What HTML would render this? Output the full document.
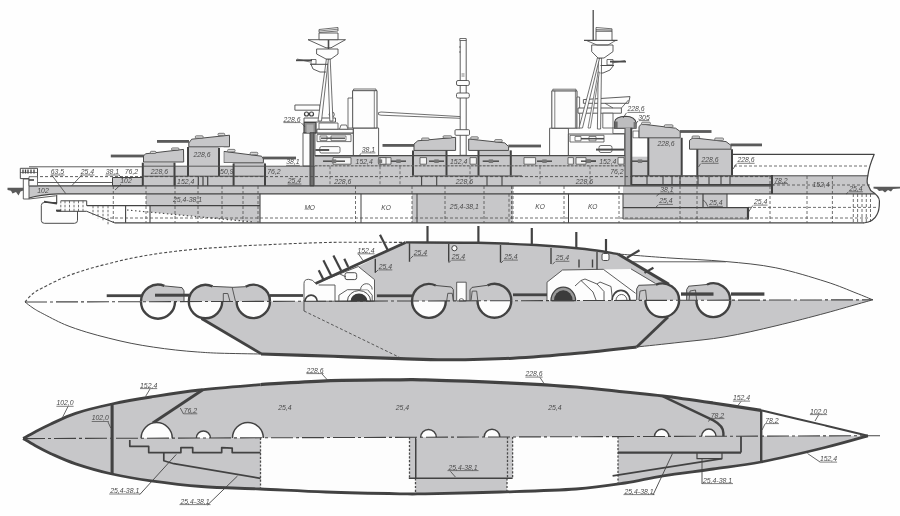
<!DOCTYPE html>
<html><head><meta charset="utf-8"><title>Armour scheme</title>
<style>
html,body{margin:0;padding:0;background:#fff;}
body{width:900px;height:516px;overflow:hidden;font-family:"Liberation Sans",sans-serif;}
svg{display:block;}
svg text{font-family:"Liberation Sans",sans-serif;font-style:italic;}
</style></head><body>
<svg width="900" height="516" viewBox="0 0 900 516">
<defs><filter id="soft" x="-2%" y="-2%" width="104%" height="104%"><feGaussianBlur stdDeviation="0.5"/></filter></defs>
<rect width="900" height="516" fill="#fefefe"/>
<g filter="url(#soft)" stroke-linecap="butt" stroke-linejoin="round">
<g id="profile">
<path d="M29,185.8 H513 V193.8 H58 Q40,194.5 29,198 Z" fill="#c7c7c9" stroke="none" stroke-width="1" />
<rect x="112.5" y="177.5" width="30.0" height="8.3" fill="#c7c7c9" stroke="none" stroke-width="1" />
<rect x="142.5" y="166.0" width="172.5" height="19.8" fill="#c7c7c9" stroke="none" stroke-width="1" />
<rect x="142.5" y="162.7" width="32.5" height="3.8" fill="#c7c7c9" stroke="none" stroke-width="1" />
<rect x="187.5" y="147.0" width="31.5" height="19.5" fill="#c7c7c9" stroke="none" stroke-width="1" />
<rect x="233.2" y="162.7" width="32.1" height="3.8" fill="#c7c7c9" stroke="none" stroke-width="1" />
<rect x="315.0" y="156.0" width="309.7" height="29.8" fill="#c7c7c9" stroke="none" stroke-width="1" />
<rect x="412.8" y="150.4" width="34.0" height="6.1" fill="#c7c7c9" stroke="none" stroke-width="1" />
<rect x="478.3" y="150.4" width="32.7" height="6.1" fill="#c7c7c9" stroke="none" stroke-width="1" />
<rect x="624.7" y="128.0" width="6.8" height="57.8" fill="#c7c7c9" stroke="none" stroke-width="1" />
<rect x="631.5" y="156.7" width="16.5" height="19.3" fill="#c7c7c9" stroke="none" stroke-width="1" />
<rect x="648.0" y="137.8" width="34.0" height="38.2" fill="#c7c7c9" stroke="none" stroke-width="1" />
<rect x="697.0" y="149.2" width="35.3" height="26.8" fill="#c7c7c9" stroke="none" stroke-width="1" />
<rect x="631.0" y="175.6" width="141.0" height="9.9" fill="#c7c7c9" stroke="none" stroke-width="1" />
<polygon points="772.0,175.5 868.0,175.5 867.2,182.0 870.7,190.6 874.0,193.5 623.0,193.5 623.0,185.0 772.0,185.0" fill="#c7c7c9" stroke="none" stroke-width="1" />
<rect x="146.0" y="193.8" width="114.0" height="11.7" fill="#c7c7c9" stroke="none" stroke-width="1" />
<polygon points="150.0,205.0 260.0,205.0 260.0,222.4 254.0,222.0 150.0,212.0" fill="#c7c7c9" stroke="none" stroke-width="1" />
<rect x="412.0" y="193.8" width="101.0" height="28.8" fill="#c7c7c9" stroke="none" stroke-width="1" />
<polygon points="623.0,193.8 727.0,193.8 727.0,207.6 748.0,207.6 748.0,219.0 623.0,219.0" fill="#c7c7c9" stroke="none" stroke-width="1" />
<rect x="303.0" y="132.8" width="8.8" height="33.2" fill="#fdfdfd" stroke="#4c4c4c" stroke-width="0.9" />
<rect x="315.0" y="133.0" width="38.4" height="23.0" fill="#fdfdfd" stroke="#4c4c4c" stroke-width="0.9" />
<rect x="353.4" y="128.0" width="25.2" height="28.0" fill="#fdfdfd" stroke="#4c4c4c" stroke-width="0.9" />
<rect x="352.6" y="90.6" width="24.4" height="37.4" fill="#fdfdfd" stroke="#4c4c4c" stroke-width="1" />
<rect x="353.6" y="89.0" width="22.4" height="1.6" fill="#fdfdfd" stroke="#4c4c4c" stroke-width="0.8" />
<rect x="348.0" y="98.0" width="4.6" height="30.0" fill="#fdfdfd" stroke="#4c4c4c" stroke-width="0.8" />
<line x1="374.3" y1="90.6" x2="374.3" y2="128.0" stroke="#4c4c4c" stroke-width="0.7" />
<rect x="294.9" y="105.0" width="25.1" height="5.2" fill="#fdfdfd" stroke="#4c4c4c" stroke-width="0.9" />
<rect x="304.0" y="118.0" width="31.5" height="4.0" fill="#fdfdfd" stroke="#4c4c4c" stroke-width="0.9" />
<rect x="316.9" y="129.2" width="36.3" height="3.8" fill="#fdfdfd" stroke="#4c4c4c" stroke-width="1" />
<rect x="319.0" y="123.0" width="19.0" height="6.2" fill="#fdfdfd" stroke="#4c4c4c" stroke-width="0.8" />
<path d="M339.5,129.2 L341,125 H346.5 L348,129.2 Z" fill="#fdfdfd" stroke="#4c4c4c" stroke-width="0.8" />
<circle cx="331.7" cy="114.5" r="2.6" fill="#fdfdfd" stroke="#4c4c4c" stroke-width="0.9"/>
<circle cx="306.5" cy="114" r="2" fill="#fdfdfd" stroke="#434343" stroke-width="1.2"/>
<circle cx="311.5" cy="114" r="2" fill="#fdfdfd" stroke="#434343" stroke-width="1.2"/>
<rect x="304.0" y="122.5" width="12.0" height="10.3" fill="#8a8a8a" stroke="#434343" stroke-width="1.2" />
<rect x="306.5" y="124.5" width="7.0" height="8.3" fill="#b0b0b0" stroke="none" stroke-width="1" />
<rect x="310.0" y="132.8" width="4.0" height="53.0" fill="#707070" stroke="#434343" stroke-width="1" />
<rect x="317.0" y="134.6" width="34.0" height="7.0" fill="#fdfdfd" stroke="#4c4c4c" stroke-width="0.8" />
<rect x="320.0" y="136.0" width="7.0" height="4.4" fill="#fdfdfd" stroke="#4c4c4c" stroke-width="0.7" />
<rect x="331.0" y="136.0" width="15.0" height="4.4" fill="#fdfdfd" stroke="#4c4c4c" stroke-width="0.7" />
<line x1="321.0" y1="138.2" x2="345.0" y2="138.2" stroke="#4c4c4c" stroke-width="1.4" />
<rect x="319.8" y="146.6" width="20.2" height="6.4" fill="#fdfdfd" stroke="#4c4c4c" stroke-width="0.8" rx="1.5"/>
<line x1="315.4" y1="150.0" x2="329.2" y2="150.0" stroke="#434343" stroke-width="1.8" />
<polygon points="327.6,59.0 330.2,59.0 333.0,121.0 329.8,121.0" fill="#fdfdfd" stroke="#4c4c4c" stroke-width="0.8" />
<polygon points="326.4,59.0 328.4,59.0 321.5,121.0 318.0,121.0" fill="#fdfdfd" stroke="#4c4c4c" stroke-width="0.8" />
<polygon points="316.6,49.0 338.0,49.0 338.0,54.0 331.0,59.0 326.0,59.0 316.6,54.0" fill="#fdfdfd" stroke="#4c4c4c" stroke-width="0.9" />
<polygon points="308.0,39.7 345.5,39.7 331.0,47.8 326.0,47.8" fill="#fdfdfd" stroke="#4c4c4c" stroke-width="0.9" />
<line x1="328.5" y1="40.0" x2="328.5" y2="49.0" stroke="#4c4c4c" stroke-width="1.6" />
<rect x="319.0" y="33.0" width="19.0" height="6.7" fill="#fdfdfd" stroke="#4c4c4c" stroke-width="0.9" />
<polygon points="319.0,29.5 338.0,27.5 338.0,31.0 319.0,32.5" fill="#fdfdfd" stroke="#4c4c4c" stroke-width="0.8" />
<line x1="319.0" y1="31.0" x2="338.0" y2="29.2" stroke="#4c4c4c" stroke-width="0.7" />
<polyline points="310.0,64.3 328.0,64.3" fill="none" stroke="#4c4c4c" stroke-width="1" />
<polyline points="311.0,64.3 313.0,69.0 320.0,72.0 326.0,72.0" fill="none" stroke="#4c4c4c" stroke-width="0.9" />
<rect x="311.0" y="59.5" width="5.0" height="4.5" fill="#fdfdfd" stroke="#4c4c4c" stroke-width="0.8" />
<line x1="296.0" y1="60.3" x2="312.0" y2="60.3" stroke="#4c4c4c" stroke-width="1.8" />
<line x1="297.0" y1="59.0" x2="310.0" y2="62.0" stroke="#4c4c4c" stroke-width="0.7" />
<polygon points="378.5,112.6 381.0,112.0 460.5,116.6 460.5,118.3 381.0,115.2 378.5,114.6" fill="#fdfdfd" stroke="#4c4c4c" stroke-width="0.8" />
<rect x="460.2" y="39.7" width="6.0" height="115.6" fill="#fdfdfd" stroke="#4c4c4c" stroke-width="0.9" />
<rect x="459.8" y="38.5" width="6.4" height="2.0" fill="#fdfdfd" stroke="#4c4c4c" stroke-width="0.8" />
<rect x="456.5" y="80.5" width="12.8" height="5.0" fill="#fdfdfd" stroke="#4c4c4c" stroke-width="0.9" rx="1.5"/>
<rect x="456.5" y="93.0" width="12.8" height="5.0" fill="#fdfdfd" stroke="#4c4c4c" stroke-width="0.9" rx="1.5"/>
<rect x="455.0" y="129.7" width="14.5" height="5.6" fill="#fdfdfd" stroke="#4c4c4c" stroke-width="0.9" rx="1"/>
<line x1="461.5" y1="74.0" x2="464.5" y2="74.0" stroke="#4c4c4c" stroke-width="0.7" />
<line x1="461.5" y1="76.0" x2="464.5" y2="76.0" stroke="#4c4c4c" stroke-width="0.7" />
<line x1="459.0" y1="47.0" x2="460.6" y2="47.0" stroke="#4c4c4c" stroke-width="0.8" />
<line x1="459.0" y1="52.0" x2="460.6" y2="52.0" stroke="#4c4c4c" stroke-width="0.8" />
<rect x="549.6" y="128.2" width="18.8" height="27.3" fill="#fdfdfd" stroke="#4c4c4c" stroke-width="0.9" />
<rect x="568.4" y="134.0" width="56.3" height="21.5" fill="#fdfdfd" stroke="#4c4c4c" stroke-width="0.9" />
<rect x="551.8" y="90.8" width="25.2" height="37.4" fill="#fdfdfd" stroke="#4c4c4c" stroke-width="1" />
<rect x="552.8" y="89.2" width="23.2" height="1.6" fill="#fdfdfd" stroke="#4c4c4c" stroke-width="0.8" />
<rect x="577.0" y="97.0" width="2.6" height="31.2" fill="#fdfdfd" stroke="#4c4c4c" stroke-width="0.8" />
<line x1="554.8" y1="90.8" x2="554.8" y2="128.0" stroke="#4c4c4c" stroke-width="0.7" />
<line x1="575.4" y1="90.8" x2="575.4" y2="128.0" stroke="#4c4c4c" stroke-width="0.7" />
<rect x="570.0" y="135.3" width="34.0" height="6.7" fill="#fdfdfd" stroke="#4c4c4c" stroke-width="0.8" />
<rect x="575.0" y="136.5" width="6.0" height="4.3" fill="#fdfdfd" stroke="#4c4c4c" stroke-width="0.7" />
<rect x="589.0" y="136.5" width="7.0" height="4.3" fill="#fdfdfd" stroke="#4c4c4c" stroke-width="0.7" />
<line x1="581.0" y1="138.7" x2="604.0" y2="138.7" stroke="#4c4c4c" stroke-width="1.5" />
<rect x="599.0" y="145.5" width="13.0" height="7.0" fill="#fdfdfd" stroke="#4c4c4c" stroke-width="0.8" rx="2"/>
<line x1="596.0" y1="149.6" x2="624.0" y2="149.6" stroke="#4c4c4c" stroke-width="2" />
<polygon points="583.4,99.6 630.0,96.6 628.5,103.3 583.4,103.3" fill="#fdfdfd" stroke="#4c4c4c" stroke-width="0.9" />
<rect x="578.0" y="108.0" width="43.4" height="5.2" fill="#fdfdfd" stroke="#4c4c4c" stroke-width="0.9" />
<rect x="602.8" y="113.2" width="10.2" height="14.8" fill="#fdfdfd" stroke="#4c4c4c" stroke-width="0.8" />
<polyline points="621.4,108.0 628.5,100.0" fill="none" stroke="#4c4c4c" stroke-width="0.8" />
<polyline points="605.0,103.3 613.0,108.0" fill="none" stroke="#4c4c4c" stroke-width="0.8" />
<rect x="612.9" y="128.0" width="13.9" height="5.5" fill="#fdfdfd" stroke="#4c4c4c" stroke-width="0.8" />
<polygon points="598.4,58.0 601.6,58.0 600.6,129.0 597.4,129.0" fill="#fdfdfd" stroke="#4c4c4c" stroke-width="0.8" />
<polygon points="597.4,58.0 599.6,58.0 582.5,128.0 579.0,128.0" fill="#fdfdfd" stroke="#4c4c4c" stroke-width="0.8" />
<polygon points="598.2,72.0 599.4,72.0 590.4,128.0 588.0,128.0" fill="#fdfdfd" stroke="#4c4c4c" stroke-width="0.7" />
<polygon points="591.7,45.0 613.0,45.0 613.0,51.6 604.0,58.0 598.0,58.0 591.7,51.6" fill="#fdfdfd" stroke="#4c4c4c" stroke-width="0.9" />
<line x1="584.0" y1="40.3" x2="617.5" y2="40.3" stroke="#4c4c4c" stroke-width="1.3" />
<polyline points="586.0,40.3 597.0,45.0 608.0,45.0 616.0,40.3" fill="none" stroke="#4c4c4c" stroke-width="0.8" />
<rect x="596.0" y="31.0" width="16.0" height="9.3" fill="#fdfdfd" stroke="#4c4c4c" stroke-width="0.9" />
<polygon points="596.0,27.5 612.0,28.8 612.0,31.0 596.0,31.0" fill="#fdfdfd" stroke="#4c4c4c" stroke-width="0.8" />
<line x1="596.0" y1="29.5" x2="612.0" y2="30.0" stroke="#4c4c4c" stroke-width="0.7" />
<line x1="593.2" y1="10.0" x2="593.2" y2="40.0" stroke="#4c4c4c" stroke-width="1.3" />
<polyline points="600.5,65.5 614.0,65.5" fill="none" stroke="#4c4c4c" stroke-width="1" />
<polyline points="613.5,65.5 610.0,70.0 603.0,73.0 600.5,73.0" fill="none" stroke="#4c4c4c" stroke-width="0.9" />
<rect x="607.0" y="59.5" width="6.0" height="5.5" fill="#fdfdfd" stroke="#4c4c4c" stroke-width="0.8" />
<line x1="610.0" y1="61.6" x2="626.0" y2="61.6" stroke="#4c4c4c" stroke-width="1.8" />
<line x1="612.0" y1="63.0" x2="625.0" y2="60.5" stroke="#4c4c4c" stroke-width="0.7" />
<path d="M614.6,128.2 V122 Q615.5,116.4 625.5,116.2 Q635.2,116.4 636.1,123 V128.2 Z" fill="#bdbdbf" stroke="#434343" stroke-width="1.1" />
<rect x="614.6" y="121.5" width="3.0" height="6.7" fill="#666" stroke="none" stroke-width="1" />
<rect x="633.6" y="122.0" width="2.5" height="6.2" fill="#777" stroke="none" stroke-width="1" />
<rect x="624.7" y="128.0" width="6.8" height="57.8" fill="#ababad" stroke="none" stroke-width="1" />
<line x1="631.3" y1="127.7" x2="631.3" y2="185.0" stroke="#434343" stroke-width="2" />
<line x1="625.0" y1="128.0" x2="625.0" y2="185.8" stroke="#434343" stroke-width="0.9" />
<rect x="633.0" y="131.0" width="6.0" height="6.8" fill="#fdfdfd" stroke="#4c4c4c" stroke-width="0.7" />
<rect x="110.8" y="154.6" width="33.2" height="2.8" fill="#5a5a5a" stroke="none" stroke-width="1" />
<rect x="157.0" y="140.0" width="32.0" height="2.8" fill="#5a5a5a" stroke="none" stroke-width="1" />
<rect x="263.0" y="156.6" width="33.0" height="2.8" fill="#5a5a5a" stroke="none" stroke-width="1" />
<rect x="382.5" y="144.0" width="32.0" height="2.8" fill="#5a5a5a" stroke="none" stroke-width="1" />
<rect x="508.3" y="144.6" width="32.7" height="2.8" fill="#5a5a5a" stroke="none" stroke-width="1" />
<rect x="680.0" y="130.1" width="31.5" height="2.8" fill="#5a5a5a" stroke="none" stroke-width="1" />
<rect x="730.5" y="143.5" width="31.5" height="2.8" fill="#5a5a5a" stroke="none" stroke-width="1" />
<polygon points="143.5,162.0 143.5,156.0 145.5,153.8 183.5,149.4 183.7,162.0" fill="#c7c7c9" stroke="#4c4c4c" stroke-width="1" />
<rect x="150.4" y="151.3" width="5.6" height="2.2" fill="#d8d8d8" stroke="#4c4c4c" stroke-width="0.7" rx="1"/>
<rect x="171.5" y="147.9" width="7.5" height="2.2" fill="#d8d8d8" stroke="#4c4c4c" stroke-width="0.7" rx="1"/>
<polygon points="188.8,146.8 188.8,143.0 191.7,139.2 229.5,135.2 229.5,146.8" fill="#c7c7c9" stroke="#4c4c4c" stroke-width="1" />
<rect x="195.3" y="135.8" width="7.9" height="2.4" fill="#d8d8d8" stroke="#4c4c4c" stroke-width="0.7" rx="1"/>
<rect x="218.0" y="133.3" width="6.7" height="2.3" fill="#d8d8d8" stroke="#4c4c4c" stroke-width="0.7" rx="1"/>
<polygon points="223.8,162.8 223.8,151.4 261.6,156.2 263.4,159.0 263.4,162.8" fill="#c7c7c9" stroke="#4c4c4c" stroke-width="1" />
<rect x="227.6" y="149.4" width="7.5" height="2.5" fill="#d8d8d8" stroke="#4c4c4c" stroke-width="0.7" rx="1"/>
<rect x="250.2" y="152.3" width="7.6" height="2.5" fill="#d8d8d8" stroke="#4c4c4c" stroke-width="0.7" rx="1"/>
<polygon points="414.0,150.4 414.0,144.0 417.8,140.8 455.6,137.3 455.6,150.4" fill="#c7c7c9" stroke="#4c4c4c" stroke-width="1" />
<rect x="421.6" y="138.0" width="7.6" height="2.3" fill="#d8d8d8" stroke="#4c4c4c" stroke-width="0.7" rx="1"/>
<rect x="443.0" y="135.8" width="8.8" height="2.2" fill="#d8d8d8" stroke="#4c4c4c" stroke-width="0.7" rx="1"/>
<polygon points="468.7,150.4 468.7,139.0 504.8,142.9 508.6,146.6 508.6,150.4" fill="#c7c7c9" stroke="#4c4c4c" stroke-width="1" />
<rect x="470.7" y="136.8" width="7.6" height="2.4" fill="#d8d8d8" stroke="#4c4c4c" stroke-width="0.7" rx="1"/>
<rect x="494.7" y="139.6" width="7.6" height="2.4" fill="#d8d8d8" stroke="#4c4c4c" stroke-width="0.7" rx="1"/>
<polygon points="639.0,137.8 639.0,126.5 641.6,124.0 675.6,128.2 680.2,131.5 680.2,137.8" fill="#c7c7c9" stroke="#4c4c4c" stroke-width="1" />
<rect x="641.6" y="122.2" width="8.8" height="2.4" fill="#d8d8d8" stroke="#4c4c4c" stroke-width="0.7" rx="1"/>
<rect x="664.3" y="124.8" width="8.7" height="2.5" fill="#d8d8d8" stroke="#4c4c4c" stroke-width="0.7" rx="1"/>
<polygon points="689.5,149.2 689.5,140.3 693.0,137.8 726.0,141.6 731.0,145.4 731.0,149.2" fill="#c7c7c9" stroke="#4c4c4c" stroke-width="1" />
<rect x="692.0" y="136.0" width="7.6" height="2.3" fill="#d8d8d8" stroke="#4c4c4c" stroke-width="0.7" rx="1"/>
<rect x="714.7" y="138.0" width="8.8" height="2.4" fill="#d8d8d8" stroke="#4c4c4c" stroke-width="0.7" rx="1"/>
<rect x="220.3" y="147.4" width="3.3" height="18.0" fill="#fdfdfd" stroke="none" stroke-width="1" />
<rect x="220.3" y="163.0" width="12.9" height="2.4" fill="#fdfdfd" stroke="none" stroke-width="1" />
<line x1="142.8" y1="162.7" x2="142.8" y2="185.8" stroke="#434343" stroke-width="2" />
<line x1="174.5" y1="162.7" x2="174.5" y2="185.8" stroke="#434343" stroke-width="2" />
<line x1="188.0" y1="147.0" x2="188.0" y2="176.2" stroke="#434343" stroke-width="2" />
<line x1="219.0" y1="148.0" x2="219.0" y2="176.2" stroke="#434343" stroke-width="2" />
<line x1="233.6" y1="163.5" x2="233.6" y2="185.8" stroke="#434343" stroke-width="2" />
<line x1="265.0" y1="163.5" x2="265.0" y2="185.8" stroke="#434343" stroke-width="2" />
<line x1="413.0" y1="150.4" x2="413.0" y2="175.6" stroke="#434343" stroke-width="2" />
<line x1="446.5" y1="150.4" x2="446.5" y2="175.6" stroke="#434343" stroke-width="2" />
<line x1="478.5" y1="150.4" x2="478.5" y2="175.6" stroke="#434343" stroke-width="2" />
<line x1="510.8" y1="150.4" x2="510.8" y2="175.6" stroke="#434343" stroke-width="2" />
<line x1="648.3" y1="137.8" x2="648.3" y2="175.6" stroke="#434343" stroke-width="2" />
<line x1="681.7" y1="137.8" x2="681.7" y2="175.6" stroke="#434343" stroke-width="2" />
<line x1="697.3" y1="149.2" x2="697.3" y2="175.6" stroke="#434343" stroke-width="2" />
<line x1="732.0" y1="149.2" x2="732.0" y2="175.6" stroke="#434343" stroke-width="2" />
<line x1="29.0" y1="166.8" x2="142.0" y2="166.8" stroke="#4c4c4c" stroke-width="0.9" />
<line x1="142.5" y1="166.2" x2="315.0" y2="166.2" stroke="#4c4c4c" stroke-width="0.9" />
<line x1="315.0" y1="165.8" x2="625.0" y2="165.8" stroke="#4c4c4c" stroke-width="1" stroke-dasharray="2.5,1.5" />
<line x1="315.0" y1="165.8" x2="625.0" y2="165.8" stroke="#888" stroke-width="0.5" />
<line x1="20.0" y1="176.6" x2="772.0" y2="176.6" stroke="#4c4c4c" stroke-width="0.9" stroke-dasharray="3,2" />
<line x1="37.5" y1="182.5" x2="112.5" y2="182.5" stroke="#4c4c4c" stroke-width="0.9" />
<line x1="29.0" y1="185.8" x2="772.0" y2="185.8" stroke="#434343" stroke-width="1.3" />
<line x1="772.0" y1="175.8" x2="868.0" y2="175.8" stroke="#4c4c4c" stroke-width="1" />
<line x1="748.0" y1="207.4" x2="877.0" y2="207.4" stroke="#4c4c4c" stroke-width="0.8" stroke-dasharray="3,2" />
<path d="M29,198 Q40,194.5 58,193.8 H875" fill="none" stroke="#434343" stroke-width="1.2" />
<line x1="86.7" y1="205.6" x2="260.0" y2="205.6" stroke="#434343" stroke-width="1.1" />
<line x1="115.0" y1="222.8" x2="864.0" y2="222.8" stroke="#434343" stroke-width="1.3" />
<line x1="110.0" y1="218.0" x2="869.0" y2="218.0" stroke="#4c4c4c" stroke-width="0.8" stroke-dasharray="3,2" />
<line x1="315.0" y1="155.6" x2="625.0" y2="155.6" stroke="#4c4c4c" stroke-width="1.1" />
<line x1="631.5" y1="175.8" x2="772.0" y2="175.8" stroke="#434343" stroke-width="1.2" />
<line x1="631.5" y1="184.8" x2="772.0" y2="184.8" stroke="#434343" stroke-width="1.6" />
<line x1="647.0" y1="175.8" x2="647.0" y2="185.0" stroke="#434343" stroke-width="1.1" />
<line x1="663.0" y1="175.8" x2="663.0" y2="185.0" stroke="#434343" stroke-width="1.1" />
<line x1="672.0" y1="175.8" x2="672.0" y2="185.0" stroke="#434343" stroke-width="1.1" />
<line x1="680.0" y1="175.8" x2="680.0" y2="185.0" stroke="#434343" stroke-width="1.1" />
<line x1="698.0" y1="175.8" x2="698.0" y2="185.0" stroke="#434343" stroke-width="1.1" />
<line x1="709.0" y1="175.8" x2="709.0" y2="185.0" stroke="#434343" stroke-width="1.1" />
<line x1="721.0" y1="175.8" x2="721.0" y2="185.0" stroke="#434343" stroke-width="1.1" />
<line x1="730.0" y1="175.8" x2="730.0" y2="185.0" stroke="#434343" stroke-width="1.1" />
<rect x="112.5" y="177.5" width="30.0" height="8.3" fill="none" stroke="#434343" stroke-width="1" />
<line x1="142.5" y1="176.2" x2="264.0" y2="176.2" stroke="#4c4c4c" stroke-width="1" />
<line x1="198.3" y1="176.2" x2="198.3" y2="185.8" stroke="#434343" stroke-width="1.2" />
<line x1="203.0" y1="176.2" x2="203.0" y2="185.8" stroke="#434343" stroke-width="1.2" />
<line x1="207.7" y1="176.2" x2="207.7" y2="185.8" stroke="#434343" stroke-width="1.2" />
<line x1="175.0" y1="176.2" x2="175.0" y2="185.8" stroke="#434343" stroke-width="1.2" />
<line x1="412.0" y1="176.0" x2="522.0" y2="176.0" stroke="#434343" stroke-width="1.2" />
<line x1="421.6" y1="176.0" x2="421.6" y2="185.8" stroke="#434343" stroke-width="1.1" />
<line x1="436.7" y1="176.0" x2="436.7" y2="185.8" stroke="#434343" stroke-width="1.1" />
<line x1="487.0" y1="176.0" x2="487.0" y2="185.8" stroke="#434343" stroke-width="1.1" />
<line x1="502.0" y1="176.0" x2="502.0" y2="185.8" stroke="#434343" stroke-width="1.1" />
<polyline points="623.0,193.8 623.0,219.0" fill="none" stroke="#434343" stroke-width="1" />
<polyline points="623.0,207.6 748.0,207.6" fill="none" stroke="#434343" stroke-width="1.2" />
<line x1="703.0" y1="193.8" x2="703.0" y2="207.6" stroke="#434343" stroke-width="1.2" />
<line x1="727.0" y1="193.8" x2="727.0" y2="207.6" stroke="#434343" stroke-width="1" />
<line x1="748.0" y1="207.0" x2="748.0" y2="219.5" stroke="#434343" stroke-width="2.2" />
<line x1="623.0" y1="219.0" x2="748.0" y2="219.0" stroke="#4c4c4c" stroke-width="0.8" />
<line x1="772.0" y1="175.0" x2="772.0" y2="194.0" stroke="#434343" stroke-width="2" />
<line x1="417.0" y1="193.8" x2="417.0" y2="222.8" stroke="#434343" stroke-width="1" />
<line x1="412.0" y1="186.0" x2="412.0" y2="222.8" stroke="#4c4c4c" stroke-width="0.8" stroke-dasharray="3,2" />
<line x1="513.0" y1="186.0" x2="513.0" y2="222.8" stroke="#4c4c4c" stroke-width="0.8" stroke-dasharray="3,2" />
<line x1="509.0" y1="193.8" x2="509.0" y2="222.8" stroke="#4c4c4c" stroke-width="0.8" stroke-dasharray="3,2" />
<line x1="445.0" y1="186.0" x2="445.0" y2="222.8" stroke="#4c4c4c" stroke-width="0.8" stroke-dasharray="3,2" />
<line x1="484.0" y1="186.0" x2="484.0" y2="222.8" stroke="#4c4c4c" stroke-width="0.8" stroke-dasharray="3,2" />
<line x1="260.0" y1="193.8" x2="260.0" y2="222.8" stroke="#434343" stroke-width="1.1" />
<line x1="355.5" y1="186.0" x2="355.5" y2="222.8" stroke="#4c4c4c" stroke-width="0.8" stroke-dasharray="3,2" />
<line x1="361.0" y1="193.8" x2="361.0" y2="222.8" stroke="#434343" stroke-width="1" />
<line x1="511.5" y1="186.0" x2="511.5" y2="222.8" stroke="#4c4c4c" stroke-width="0.8" stroke-dasharray="3,2" />
<line x1="564.0" y1="186.0" x2="564.0" y2="222.8" stroke="#4c4c4c" stroke-width="0.8" stroke-dasharray="3,2" />
<line x1="568.5" y1="193.8" x2="568.5" y2="222.8" stroke="#434343" stroke-width="1" />
<line x1="619.0" y1="186.0" x2="619.0" y2="222.8" stroke="#4c4c4c" stroke-width="0.8" stroke-dasharray="3,2" />
<line x1="513.0" y1="193.8" x2="623.0" y2="193.8" stroke="#4c4c4c" stroke-width="0.8" />
<line x1="113.3" y1="186.0" x2="113.3" y2="222.8" stroke="#4c4c4c" stroke-width="0.8" stroke-dasharray="3,2" />
<line x1="146.0" y1="186.0" x2="146.0" y2="222.8" stroke="#4c4c4c" stroke-width="0.8" stroke-dasharray="3,2" />
<line x1="175.0" y1="186.0" x2="175.0" y2="222.8" stroke="#4c4c4c" stroke-width="0.8" stroke-dasharray="3,2" />
<line x1="198.0" y1="186.0" x2="198.0" y2="222.8" stroke="#4c4c4c" stroke-width="0.8" stroke-dasharray="3,2" />
<line x1="222.0" y1="186.0" x2="222.0" y2="222.8" stroke="#4c4c4c" stroke-width="0.8" stroke-dasharray="3,2" />
<line x1="243.0" y1="186.0" x2="243.0" y2="222.8" stroke="#4c4c4c" stroke-width="0.8" stroke-dasharray="3,2" />
<line x1="258.0" y1="186.0" x2="258.0" y2="222.8" stroke="#4c4c4c" stroke-width="0.8" stroke-dasharray="3,2" />
<line x1="680.0" y1="176.0" x2="680.0" y2="222.8" stroke="#4c4c4c" stroke-width="0.8" stroke-dasharray="3,2" />
<line x1="697.0" y1="176.0" x2="697.0" y2="222.8" stroke="#4c4c4c" stroke-width="0.8" stroke-dasharray="3,2" />
<line x1="770.0" y1="176.0" x2="770.0" y2="222.8" stroke="#4c4c4c" stroke-width="0.8" stroke-dasharray="3,2" />
<line x1="807.0" y1="176.0" x2="807.0" y2="222.8" stroke="#4c4c4c" stroke-width="0.8" stroke-dasharray="3,2" />
<line x1="832.4" y1="176.0" x2="832.4" y2="222.8" stroke="#4c4c4c" stroke-width="0.8" stroke-dasharray="3,2" />
<line x1="853.3" y1="194.0" x2="853.3" y2="222.8" stroke="#4c4c4c" stroke-width="0.8" stroke-dasharray="3,2" />
<line x1="857.6" y1="194.0" x2="857.6" y2="222.8" stroke="#4c4c4c" stroke-width="0.8" stroke-dasharray="3,2" />
<line x1="862.0" y1="194.0" x2="862.0" y2="222.8" stroke="#4c4c4c" stroke-width="0.8" stroke-dasharray="3,2" />
<line x1="866.3" y1="194.0" x2="866.3" y2="222.8" stroke="#4c4c4c" stroke-width="0.8" stroke-dasharray="3,2" />
<line x1="870.5" y1="194.0" x2="870.5" y2="222.8" stroke="#4c4c4c" stroke-width="0.8" stroke-dasharray="3,2" />
<line x1="330.0" y1="166.2" x2="330.0" y2="185.8" stroke="#4c4c4c" stroke-width="0.7" stroke-dasharray="3,2" />
<line x1="380.0" y1="166.2" x2="380.0" y2="185.8" stroke="#4c4c4c" stroke-width="0.7" stroke-dasharray="3,2" />
<line x1="400.0" y1="166.2" x2="400.0" y2="185.8" stroke="#4c4c4c" stroke-width="0.7" stroke-dasharray="3,2" />
<line x1="470.0" y1="166.2" x2="470.0" y2="185.8" stroke="#4c4c4c" stroke-width="0.7" stroke-dasharray="3,2" />
<line x1="540.0" y1="166.2" x2="540.0" y2="185.8" stroke="#4c4c4c" stroke-width="0.7" stroke-dasharray="3,2" />
<line x1="590.0" y1="166.2" x2="590.0" y2="185.8" stroke="#4c4c4c" stroke-width="0.7" stroke-dasharray="3,2" />
<line x1="125.6" y1="205.6" x2="125.6" y2="222.8" stroke="#434343" stroke-width="1.1" />
<line x1="150.0" y1="205.6" x2="150.0" y2="222.8" stroke="#434343" stroke-width="1.1" />
<line x1="127.0" y1="210.0" x2="254.0" y2="222.0" stroke="#4c4c4c" stroke-width="1.2" stroke-dasharray="1.5,2.5" />
<path d="M733,154.3 H874.2 C871,162 868.5,170 868,175 C867,179 867,182 867.4,183.5 L870.7,190.6 C876,194 880,198 879.4,202 C879.4,208 878.5,212 877,214.5 C875,219 871,222 863.7,223" fill="none" stroke="#434343" stroke-width="1.2" />
<line x1="734.0" y1="166.0" x2="868.0" y2="166.0" stroke="#4c4c4c" stroke-width="0.8" stroke-dasharray="3,2" />
<line x1="772.0" y1="185.0" x2="870.0" y2="185.0" stroke="#4c4c4c" stroke-width="0.8" stroke-dasharray="3,2" />
<polygon points="873.5,186.8 900.0,186.8 900.0,188.6 893.0,189.0 891.0,191.5 888.0,190.0 885.0,192.5 882.5,190.5 879.0,191.0 877.0,189.0 873.5,188.6" fill="#5a5a5a" stroke="none" stroke-width="1" />
<rect x="20.3" y="168.3" width="17.2" height="10.3" fill="#fdfdfd" stroke="#4c4c4c" stroke-width="1" />
<line x1="23.0" y1="169.5" x2="23.0" y2="173.5" stroke="#434343" stroke-width="1.3" />
<line x1="25.5" y1="169.5" x2="25.5" y2="173.5" stroke="#434343" stroke-width="1.3" />
<line x1="28.0" y1="169.5" x2="28.0" y2="173.5" stroke="#434343" stroke-width="1.3" />
<line x1="31.0" y1="169.5" x2="31.0" y2="173.5" stroke="#434343" stroke-width="1.3" />
<line x1="34.0" y1="169.5" x2="34.0" y2="173.5" stroke="#434343" stroke-width="1.3" />
<line x1="26.0" y1="180.3" x2="36.0" y2="180.3" stroke="#434343" stroke-width="1.6" />
<line x1="20.0" y1="172.5" x2="37.5" y2="172.5" stroke="#4c4c4c" stroke-width="0.7" />
<rect x="23.3" y="179.0" width="5.7" height="20.0" fill="#fdfdfd" stroke="#4c4c4c" stroke-width="0.9" />
<rect x="29.0" y="176.7" width="8.5" height="9.1" fill="#fdfdfd" stroke="#4c4c4c" stroke-width="0.8" />
<line x1="29.0" y1="180.0" x2="34.0" y2="180.0" stroke="#434343" stroke-width="1.6" />
<polygon points="7.5,187.8 23.3,187.8 23.3,190.6 20.5,191.5 18.5,195.5 16.0,192.0 12.5,193.5 11.0,190.8 7.5,190.0" fill="#5a5a5a" stroke="none" stroke-width="1" />
<rect x="41.3" y="202.5" width="36.2" height="20.8" fill="#fdfdfd" stroke="#4c4c4c" stroke-width="1" rx="3"/>
<polygon points="57.0,200.8 86.7,200.8 86.7,211.3 57.0,211.3" fill="#fdfdfd" stroke="none" stroke-width="1" />
<polyline points="29.0,199.0 55.8,195.8" fill="none" stroke="#4c4c4c" stroke-width="0.9" />
<line x1="56.7" y1="195.0" x2="56.7" y2="203.5" stroke="#434343" stroke-width="1.1" />
<line x1="44.0" y1="201.6" x2="57.0" y2="203.6" stroke="#434343" stroke-width="1.6" />
<polyline points="60.8,200.8 86.7,200.8 86.7,205.8" fill="none" stroke="#434343" stroke-width="1" />
<polyline points="56.7,211.3 86.7,211.3 115.0,223.0" fill="none" stroke="#434343" stroke-width="1" />
<line x1="56.0" y1="210.5" x2="61.0" y2="210.5" stroke="#434343" stroke-width="1.8" />
<line x1="60.8" y1="200.8" x2="60.8" y2="211.3" stroke="#4c4c4c" stroke-width="0.8" stroke-dasharray="2.5,1.5" />
<line x1="65.0" y1="200.8" x2="65.0" y2="211.3" stroke="#4c4c4c" stroke-width="0.8" stroke-dasharray="2.5,1.5" />
<line x1="69.5" y1="200.8" x2="69.5" y2="211.3" stroke="#4c4c4c" stroke-width="0.8" stroke-dasharray="2.5,1.5" />
<line x1="74.0" y1="200.8" x2="74.0" y2="211.3" stroke="#4c4c4c" stroke-width="0.8" stroke-dasharray="2.5,1.5" />
<line x1="78.5" y1="200.8" x2="78.5" y2="211.3" stroke="#4c4c4c" stroke-width="0.8" stroke-dasharray="2.5,1.5" />
<line x1="83.0" y1="200.8" x2="83.0" y2="211.3" stroke="#4c4c4c" stroke-width="0.8" stroke-dasharray="2.5,1.5" />
<line x1="93.0" y1="205.8" x2="93.0" y2="215.2" stroke="#4c4c4c" stroke-width="0.8" stroke-dasharray="2.5,1.5" />
<line x1="98.0" y1="205.8" x2="98.0" y2="218.3" stroke="#4c4c4c" stroke-width="0.8" stroke-dasharray="2.5,1.5" />
<line x1="103.0" y1="205.8" x2="103.0" y2="221.4" stroke="#4c4c4c" stroke-width="0.8" stroke-dasharray="2.5,1.5" />
<line x1="108.0" y1="205.8" x2="108.0" y2="224.5" stroke="#4c4c4c" stroke-width="0.8" stroke-dasharray="2.5,1.5" />
<rect x="333.0" y="157.6" width="18.0" height="6.6" fill="#f4f4f4" stroke="#4c4c4c" stroke-width="0.8" />
<line x1="323.0" y1="161.2" x2="345.0" y2="161.2" stroke="#4c4c4c" stroke-width="1.5" />
<rect x="331.8" y="159.4" width="4.4" height="3.6" fill="#777" stroke="none" stroke-width="1" />
<rect x="378.6" y="157.6" width="12.4" height="6.6" fill="#f4f4f4" stroke="#4c4c4c" stroke-width="0.8" />
<line x1="391.0" y1="161.2" x2="406.0" y2="161.2" stroke="#4c4c4c" stroke-width="1.5" />
<rect x="396.3" y="159.4" width="4.4" height="3.6" fill="#777" stroke="none" stroke-width="1" />
<rect x="380.0" y="157.6" width="6.0" height="6.6" fill="#f4f4f4" stroke="#4c4c4c" stroke-width="0.8" />
<line x1="380.0" y1="161.2" x2="380.0" y2="161.2" stroke="#4c4c4c" stroke-width="1.5" />
<rect x="377.8" y="159.4" width="4.4" height="3.6" fill="#777" stroke="none" stroke-width="1" />
<rect x="420.0" y="157.6" width="6.5" height="6.6" fill="#f4f4f4" stroke="#4c4c4c" stroke-width="0.8" />
<line x1="429.0" y1="161.2" x2="444.0" y2="161.2" stroke="#4c4c4c" stroke-width="1.5" />
<rect x="434.3" y="159.4" width="4.4" height="3.6" fill="#777" stroke="none" stroke-width="1" />
<rect x="470.0" y="157.6" width="6.4" height="6.6" fill="#f4f4f4" stroke="#4c4c4c" stroke-width="0.8" />
<line x1="482.7" y1="161.2" x2="499.0" y2="161.2" stroke="#4c4c4c" stroke-width="1.5" />
<rect x="488.7" y="159.4" width="4.4" height="3.6" fill="#777" stroke="none" stroke-width="1" />
<rect x="524.0" y="157.6" width="11.6" height="6.6" fill="#f4f4f4" stroke="#4c4c4c" stroke-width="0.8" />
<line x1="537.0" y1="161.2" x2="552.0" y2="161.2" stroke="#4c4c4c" stroke-width="1.5" />
<rect x="542.3" y="159.4" width="4.4" height="3.6" fill="#777" stroke="none" stroke-width="1" />
<rect x="568.0" y="157.6" width="5.4" height="6.6" fill="#f4f4f4" stroke="#4c4c4c" stroke-width="0.8" />
<line x1="581.0" y1="161.2" x2="596.0" y2="161.2" stroke="#4c4c4c" stroke-width="1.5" />
<rect x="586.3" y="159.4" width="4.4" height="3.6" fill="#777" stroke="none" stroke-width="1" />
<rect x="576.0" y="157.6" width="10.0" height="6.6" fill="#f4f4f4" stroke="#4c4c4c" stroke-width="0.8" />
<line x1="581.0" y1="161.2" x2="596.0" y2="161.2" stroke="#4c4c4c" stroke-width="1.5" />
<rect x="586.3" y="159.4" width="4.4" height="3.6" fill="#777" stroke="none" stroke-width="1" />
<rect x="618.0" y="157.6" width="6.0" height="6.6" fill="#f4f4f4" stroke="#4c4c4c" stroke-width="0.8" />
<line x1="631.0" y1="161.2" x2="649.0" y2="161.2" stroke="#4c4c4c" stroke-width="1.5" />
<rect x="637.8" y="159.4" width="4.4" height="3.6" fill="#777" stroke="none" stroke-width="1" />
<text x="57.5" y="173.9" font-size="6.9" text-anchor="middle" fill="#4a4a4a" >63,5</text>
<line x1="50.6" y1="175.0" x2="64.4" y2="175.0" stroke="#4a4a4a" stroke-width="0.7" />
<polyline points="51.7,175.0 65.8,193.7" fill="none" stroke="#444" stroke-width="0.8" />
<text x="87.5" y="173.9" font-size="6.9" text-anchor="middle" fill="#4a4a4a" >25,4</text>
<line x1="80.6" y1="175.0" x2="94.4" y2="175.0" stroke="#4a4a4a" stroke-width="0.7" />
<polyline points="81.7,175.0 71.7,185.8" fill="none" stroke="#444" stroke-width="0.8" />
<text x="112.5" y="173.9" font-size="6.9" text-anchor="middle" fill="#4a4a4a" >38,1</text>
<line x1="105.6" y1="175.0" x2="119.4" y2="175.0" stroke="#4a4a4a" stroke-width="0.7" />
<polyline points="119.0,175.0 121.3,177.5" fill="none" stroke="#444" stroke-width="0.8" />
<text x="131.5" y="173.9" font-size="6.9" text-anchor="middle" fill="#4a4a4a" >76,2</text>
<text x="126.0" y="183.3" font-size="6.9" text-anchor="middle" fill="#4a4a4a" >102</text>
<polyline points="121.0,184.3 115.0,190.0" fill="none" stroke="#444" stroke-width="0.8" />
<text x="43.0" y="192.8" font-size="6.9" text-anchor="middle" fill="#4a4a4a" >102</text>
<text x="202.0" y="157.4" font-size="6.9" text-anchor="middle" fill="#4a4a4a" >228,6</text>
<text x="159.4" y="173.8" font-size="6.9" text-anchor="middle" fill="#4a4a4a" >228,6</text>
<text x="226.8" y="173.8" font-size="6.9" text-anchor="middle" fill="#4a4a4a" >50,9</text>
<text x="185.7" y="183.5" font-size="6.9" text-anchor="middle" fill="#4a4a4a" >152,4</text>
<text x="187.5" y="202.3" font-size="6.9" text-anchor="middle" fill="#4a4a4a" >25,4-38,1</text>
<text x="274.0" y="174.0" font-size="6.9" text-anchor="middle" fill="#4a4a4a" >76,2</text>
<text x="293.0" y="164.3" font-size="6.9" text-anchor="middle" fill="#4a4a4a" >38,1</text>
<line x1="286.1" y1="165.4" x2="299.9" y2="165.4" stroke="#4a4a4a" stroke-width="0.7" />
<text x="294.5" y="182.9" font-size="6.9" text-anchor="middle" fill="#4a4a4a" >25,4</text>
<line x1="287.6" y1="184.0" x2="301.4" y2="184.0" stroke="#4a4a4a" stroke-width="0.7" />
<text x="292.0" y="121.5" font-size="6.9" text-anchor="middle" fill="#4a4a4a" >228,6</text>
<line x1="283.4" y1="122.6" x2="300.6" y2="122.6" stroke="#4a4a4a" stroke-width="0.7" />
<polyline points="301.5,123.0 305.0,127.0" fill="none" stroke="#444" stroke-width="0.8" />
<text x="368.5" y="151.8" font-size="6.9" text-anchor="middle" fill="#4a4a4a" >38,1</text>
<line x1="361.6" y1="152.9" x2="375.4" y2="152.9" stroke="#4a4a4a" stroke-width="0.7" />
<polyline points="361.0,153.3 359.0,156.0" fill="none" stroke="#444" stroke-width="0.8" />
<text x="364.2" y="163.8" font-size="6.9" text-anchor="middle" fill="#4a4a4a" >152,4</text>
<text x="342.8" y="183.5" font-size="6.9" text-anchor="middle" fill="#4a4a4a" >228,6</text>
<text x="309.7" y="209.6" font-size="6.6" text-anchor="middle" fill="#4a4a4a" >MO</text>
<text x="386.0" y="209.6" font-size="6.6" text-anchor="middle" fill="#4a4a4a" >KO</text>
<text x="458.6" y="163.8" font-size="6.9" text-anchor="middle" fill="#4a4a4a" >152,4</text>
<text x="464.4" y="183.5" font-size="6.9" text-anchor="middle" fill="#4a4a4a" >228,6</text>
<text x="464.4" y="208.9" font-size="6.9" text-anchor="middle" fill="#4a4a4a" >25,4-38,1</text>
<text x="607.8" y="163.8" font-size="6.9" text-anchor="middle" fill="#4a4a4a" >152,4</text>
<text x="617.0" y="173.8" font-size="6.9" text-anchor="middle" fill="#4a4a4a" >76,2</text>
<text x="584.4" y="183.5" font-size="6.9" text-anchor="middle" fill="#4a4a4a" >228,6</text>
<text x="540.0" y="209.2" font-size="6.6" text-anchor="middle" fill="#4a4a4a" >KO</text>
<text x="592.7" y="209.2" font-size="6.6" text-anchor="middle" fill="#4a4a4a" >KO</text>
<text x="636.0" y="111.3" font-size="6.9" text-anchor="middle" fill="#4a4a4a" >228,6</text>
<line x1="627.4" y1="112.4" x2="644.6" y2="112.4" stroke="#4a4a4a" stroke-width="0.7" />
<polyline points="626.5,112.8 623.0,118.0" fill="none" stroke="#444" stroke-width="0.8" />
<text x="644.0" y="119.5" font-size="6.9" text-anchor="middle" fill="#4a4a4a" >305</text>
<line x1="638.8" y1="120.6" x2="649.2" y2="120.6" stroke="#4a4a4a" stroke-width="0.7" />
<polyline points="638.0,121.0 636.0,123.5" fill="none" stroke="#444" stroke-width="0.8" />
<text x="666.0" y="145.9" font-size="6.9" text-anchor="middle" fill="#4a4a4a" >228,6</text>
<text x="710.0" y="162.2" font-size="6.9" text-anchor="middle" fill="#4a4a4a" >228,6</text>
<line x1="701.4" y1="163.3" x2="718.6" y2="163.3" stroke="#4a4a4a" stroke-width="0.7" />
<text x="746.0" y="162.2" font-size="6.9" text-anchor="middle" fill="#4a4a4a" >228,6</text>
<line x1="737.4" y1="163.3" x2="754.6" y2="163.3" stroke="#4a4a4a" stroke-width="0.7" />
<polyline points="700.5,163.7 698.5,167.0" fill="none" stroke="#444" stroke-width="0.8" />
<polyline points="736.5,163.7 733.0,169.0" fill="none" stroke="#444" stroke-width="0.8" />
<text x="667.0" y="192.1" font-size="6.9" text-anchor="middle" fill="#4a4a4a" >38,1</text>
<line x1="660.1" y1="193.2" x2="673.9" y2="193.2" stroke="#4a4a4a" stroke-width="0.7" />
<text x="666.0" y="203.3" font-size="6.9" text-anchor="middle" fill="#4a4a4a" >25,4</text>
<line x1="659.1" y1="204.4" x2="672.9" y2="204.4" stroke="#4a4a4a" stroke-width="0.7" />
<polyline points="659.5,193.5 656.5,196.0" fill="none" stroke="#444" stroke-width="0.8" />
<polyline points="658.5,204.8 655.5,207.5" fill="none" stroke="#444" stroke-width="0.8" />
<text x="716.0" y="205.3" font-size="6.9" text-anchor="middle" fill="#4a4a4a" >25,4</text>
<line x1="709.1" y1="206.4" x2="722.9" y2="206.4" stroke="#4a4a4a" stroke-width="0.7" />
<polyline points="708.0,206.8 705.5,202.0 703.0,200.0" fill="none" stroke="#444" stroke-width="0.8" />
<text x="760.6" y="204.0" font-size="6.9" text-anchor="middle" fill="#4a4a4a" >25,4</text>
<line x1="753.7" y1="205.1" x2="767.5" y2="205.1" stroke="#4a4a4a" stroke-width="0.7" />
<polyline points="752.8,205.5 748.5,212.0" fill="none" stroke="#444" stroke-width="0.8" />
<text x="781.0" y="182.5" font-size="6.9" text-anchor="middle" fill="#4a4a4a" >78,2</text>
<line x1="774.1" y1="183.6" x2="787.9" y2="183.6" stroke="#4a4a4a" stroke-width="0.7" />
<polyline points="773.5,184.0 772.0,188.0" fill="none" stroke="#444" stroke-width="0.8" />
<text x="821.0" y="186.9" font-size="6.9" text-anchor="middle" fill="#4a4a4a" >152,4</text>
<text x="856.0" y="190.7" font-size="6.9" text-anchor="middle" fill="#4a4a4a" >25,4</text>
<line x1="849.1" y1="191.8" x2="862.9" y2="191.8" stroke="#4a4a4a" stroke-width="0.7" />
<polyline points="848.5,192.0 846.0,194.0" fill="none" stroke="#444" stroke-width="0.8" />
</g>
<g id="plan1">
<path d="M205,301.5 L202,318 L261,354 L261.0,354.0 C273.0,354.4 309.8,355.5 333.0,356.3 C356.2,357.1 381.0,358.0 400.0,358.6 C419.0,359.2 428.2,359.9 447.0,359.8 C465.8,359.7 490.8,359.3 513.0,358.2 C535.2,357.1 559.4,354.9 580.0,353.0 C600.6,351.1 620.0,348.8 636.7,347.0 C653.4,345.2 665.3,344.0 680.0,342.3 C694.7,340.6 709.0,339.6 725.0,336.8 C741.0,334.1 759.2,329.8 776.0,325.8 C792.8,321.8 812.7,316.6 826.0,313.0 C839.3,309.4 848.2,306.7 856.0,304.5 C863.8,302.3 869.9,300.6 872.7,299.8 Z" fill="#c7c7c9" stroke="none" stroke-width="1" />
<path d="M358.3,266.5 L405.6,242.4 L405.6,242.4 C417.7,242.5 456.3,242.4 478.0,242.8 C499.7,243.2 518.2,244.0 536.0,245.0 C553.8,246.0 571.3,247.5 585.0,249.0 C598.7,250.5 612.5,253.2 618.0,254.0 L668.9,284.4 L668.9,300.3 L374.5,301.1 L374.5,279.6 Z" fill="#c7c7c9" stroke="none" stroke-width="1" />
<path d="M25.0,302.0 C26.3,300.6 30.1,295.8 33.0,293.5 C35.9,291.2 37.0,290.7 42.2,288.0 C47.4,285.3 57.0,280.4 64.4,277.3 C71.8,274.2 79.3,271.8 86.7,269.5 C94.1,267.2 101.5,265.4 108.9,263.5 C116.3,261.6 123.7,259.8 131.1,258.3 C138.5,256.8 145.9,255.5 153.3,254.3 C160.7,253.1 168.2,252.2 175.6,251.3 C183.0,250.4 190.4,249.7 197.8,249.0 C205.2,248.3 210.4,248.0 220.0,247.4 C229.6,246.8 237.1,246.0 255.6,245.2 C274.1,244.4 306.1,242.9 331.0,242.4 C355.9,241.9 392.7,242.4 405.0,242.4" fill="none" stroke="#4c4c4c" stroke-width="1.1" stroke-dasharray="3,2" />
<path d="M618.0,254.0 C626.7,254.7 652.1,256.8 670.0,258.0 C687.9,259.2 707.8,259.9 725.4,261.5 C743.0,263.1 759.0,264.4 775.8,267.8 C792.6,271.2 812.6,277.5 826.0,281.7 C839.4,285.9 848.2,290.0 856.0,293.0 C863.8,296.0 869.9,298.7 872.7,299.8" fill="none" stroke="#4c4c4c" stroke-width="1" />
<path d="M633,261.8 H726" fill="none" stroke="#4c4c4c" stroke-width="0.9" />
<path d="M25.0,302.0 C26.3,303.0 30.1,306.1 33.0,308.0 C35.9,309.9 37.0,310.6 42.2,313.3 C47.4,316.0 57.0,321.2 64.4,324.4 C71.8,327.5 79.3,329.9 86.7,332.2 C94.1,334.5 101.5,336.3 108.9,338.2 C116.3,340.1 123.7,341.8 131.1,343.3 C138.5,344.8 145.9,346.0 153.3,347.1 C160.7,348.2 168.2,349.2 175.6,350.0 C183.0,350.8 190.4,351.5 197.8,352.0 C205.2,352.5 209.5,352.9 220.0,353.2 C230.5,353.5 254.2,353.9 261.0,354.0" fill="none" stroke="#4c4c4c" stroke-width="1" />
<path d="M261.0,354.0 C273.0,354.4 309.8,355.5 333.0,356.3 C356.2,357.1 381.0,358.0 400.0,358.6 C419.0,359.2 428.2,359.9 447.0,359.8 C465.8,359.7 490.8,359.3 513.0,358.2 C535.2,357.1 559.4,354.9 580.0,353.0 C600.6,351.1 627.2,348.0 636.7,347.0" fill="none" stroke="#434343" stroke-width="3.1" />
<path d="M636.7,347.0 C643.9,346.2 665.3,344.0 680.0,342.3 C694.7,340.6 709.0,339.6 725.0,336.8 C741.0,334.1 759.2,329.8 776.0,325.8 C792.8,321.8 812.7,316.6 826.0,313.0 C839.3,309.4 848.2,306.7 856.0,304.5 C863.8,302.3 869.9,300.6 872.7,299.8" fill="none" stroke="#4c4c4c" stroke-width="1" />
<line x1="304.0" y1="300.0" x2="304.0" y2="311.0" stroke="#4c4c4c" stroke-width="1" />
<line x1="304.0" y1="311.0" x2="400.0" y2="357.6" stroke="#4c4c4c" stroke-width="0.9" stroke-dasharray="3,2" />
<path d="M304,301.3 V283.5 Q304,279.3 308.6,279.3 Q313,279.3 315.6,283.5 L358.3,266.5 L374.5,279.6 V301.1 Z" fill="#fdfdfd" stroke="#4c4c4c" stroke-width="0.9" />
<path d="M305,301.3 A6,6 0 0 1 317.2,301.2" fill="#fdfdfd" stroke="#434343" stroke-width="1.7" />
<polyline points="318.7,285.0 335.0,285.0 335.0,301.2" fill="none" stroke="#4c4c4c" stroke-width="0.9" />
<polyline points="338.9,301.2 338.9,295.2 347.4,289.7 367.6,289.7 372.2,295.2 372.2,301.1" fill="none" stroke="#4c4c4c" stroke-width="0.9" />
<path d="M347.4,301.2 A11.6,10.6 0 0 1 370.6,301.1 Z" fill="#fdfdfd" stroke="#4c4c4c" stroke-width="1" />
<path d="M350.5,301.2 A8.5,7.6 0 0 1 367.5,301.1 Z" fill="#3a3a3a" stroke="none" stroke-width="1" />
<rect x="345.0" y="272.7" width="11.7" height="6.9" fill="#fdfdfd" stroke="#4c4c4c" stroke-width="1" rx="2"/>
<line x1="340.0" y1="274.0" x2="346.0" y2="277.0" stroke="#4c4c4c" stroke-width="0.9" />
<path d="M360.6,289.5 a5.8,5.8 0 0 1 11.6,0" fill="#fdfdfd" stroke="#4c4c4c" stroke-width="0.9" />
<polygon points="547.0,300.6 547.0,282.2 562.5,270.0 631.0,269.0 657.0,284.8 657.0,300.4" fill="#fdfdfd" stroke="none" stroke-width="1" />
<polyline points="547.0,300.6 547.0,282.2 562.5,270.0 603.3,269.3 635.6,293.3" fill="none" stroke="#4c4c4c" stroke-width="0.9" />
<line x1="631.0" y1="268.9" x2="655.5" y2="283.5" stroke="#4c4c4c" stroke-width="0.9" />
<path d="M551,300.6 A12.3,13.4 0 0 1 575.6,300.6 Z" fill="#9a9a9a" stroke="#434343" stroke-width="1.3" />
<path d="M554,300.6 A9.3,10.3 0 0 1 572.6,300.6 Z" fill="#3a3a3a" stroke="none" stroke-width="1" />
<polyline points="575.0,286.0 581.0,280.5 593.0,292.0 596.0,300.0" fill="none" stroke="#4c4c4c" stroke-width="0.9" />
<polyline points="581.0,280.5 585.0,279.0 597.0,284.0 604.0,291.5 604.0,300.0" fill="none" stroke="#4c4c4c" stroke-width="0.9" />
<polyline points="597.0,284.0 600.0,282.0 611.0,286.5 612.5,300.0" fill="none" stroke="#4c4c4c" stroke-width="0.9" />
<path d="M612,300.5 A9,10 0 0 1 630,300.4" fill="#fdfdfd" stroke="#434343" stroke-width="1.7" />
<path d="M616,300.5 A5.5,6 0 0 1 627,300.4" fill="#fdfdfd" stroke="#4c4c4c" stroke-width="0.9" />
<rect x="456.7" y="282.2" width="9.5" height="18.8" fill="#fdfdfd" stroke="#4c4c4c" stroke-width="0.9" />
<path d="M459,301 a2.4,2.4 0 0 1 4.8,0" fill="#fdfdfd" stroke="#4c4c4c" stroke-width="0.8" />
<circle cx="454.4" cy="248.2" r="2.6" fill="#fdfdfd" stroke="#434343" stroke-width="1"/>
<rect x="602.0" y="253.5" width="7.0" height="7.0" fill="#fdfdfd" stroke="#4c4c4c" stroke-width="1" rx="1.5"/>
<line x1="201.5" y1="318.5" x2="261.0" y2="353.6" stroke="#434343" stroke-width="2.8" />
<line x1="636.7" y1="347.0" x2="668.0" y2="317.0" stroke="#434343" stroke-width="2.8" />
<line x1="315.6" y1="283.5" x2="405.6" y2="242.4" stroke="#434343" stroke-width="2.8" />
<path d="M405.6,242.4 C417.7,242.5 456.3,242.4 478.0,242.8 C499.7,243.2 518.2,244.0 536.0,245.0 C553.8,246.0 571.3,247.5 585.0,249.0 C598.7,250.5 612.5,253.2 618.0,254.0" fill="none" stroke="#434343" stroke-width="2.4" />
<line x1="618.0" y1="254.0" x2="668.9" y2="284.4" stroke="#434343" stroke-width="3" />
<line x1="375.3" y1="258.7" x2="375.3" y2="272.7" stroke="#434343" stroke-width="1.4" />
<line x1="409.5" y1="243.2" x2="409.5" y2="261.8" stroke="#434343" stroke-width="1.4" />
<line x1="448.7" y1="244.0" x2="448.7" y2="261.8" stroke="#434343" stroke-width="1.4" />
<line x1="500.5" y1="245.0" x2="500.5" y2="262.5" stroke="#434343" stroke-width="1.4" />
<line x1="551.0" y1="248.0" x2="551.0" y2="264.0" stroke="#434343" stroke-width="1.4" />
<line x1="579.0" y1="259.5" x2="579.0" y2="267.5" stroke="#434343" stroke-width="1.4" />
<line x1="592.5" y1="259.5" x2="592.5" y2="267.5" stroke="#434343" stroke-width="1.4" />
<line x1="597.0" y1="252.0" x2="597.0" y2="269.5" stroke="#434343" stroke-width="1.4" />
<line x1="318.7" y1="270.3" x2="323.4" y2="279.5" stroke="#434343" stroke-width="2.2" />
<line x1="323.4" y1="260.3" x2="331.1" y2="275.5" stroke="#434343" stroke-width="2.2" />
<line x1="333.4" y1="255.6" x2="341.2" y2="270.8" stroke="#434343" stroke-width="2.2" />
<line x1="344.3" y1="258.7" x2="348.2" y2="267.0" stroke="#434343" stroke-width="2.2" />
<line x1="380.0" y1="234.7" x2="387.7" y2="250.0" stroke="#434343" stroke-width="2.2" />
<line x1="427.5" y1="226.0" x2="427.5" y2="242.5" stroke="#434343" stroke-width="2.2" />
<line x1="478.4" y1="226.0" x2="478.4" y2="242.8" stroke="#434343" stroke-width="2.2" />
<line x1="531.8" y1="228.0" x2="531.8" y2="244.8" stroke="#434343" stroke-width="2.2" />
<line x1="576.3" y1="232.0" x2="576.3" y2="247.7" stroke="#434343" stroke-width="2.2" />
<line x1="606.0" y1="239.0" x2="606.0" y2="251.5" stroke="#434343" stroke-width="2.2" />
<line x1="639.5" y1="250.2" x2="627.0" y2="257.7" stroke="#434343" stroke-width="2.2" />
<line x1="653.4" y1="267.8" x2="644.5" y2="272.9" stroke="#434343" stroke-width="2.2" />
<rect x="106.7" y="294.3" width="35.3" height="2.8" fill="#454545" stroke="none" stroke-width="1" />
<path d="M141.0,301.7 A17.0,17.0 0 0 1 164.4,285.9 L182.0,287.6 L184.0,290.8 L184.0,301.7 Z" fill="#c7c7c9" stroke="none" stroke-width="1" />
<polyline points="164.4,285.9 182.0,287.6 184.0,290.8 184.0,301.7" fill="none" stroke="#4c4c4c" stroke-width="1" />
<path d="M188.8,301.5 A16.7,16.7 0 0 1 212.6,286.4 L233.0,287.3 L245.5,286.7 A16.7,16.7 0 0 1 270.0,301.4 Z" fill="#c7c7c9" stroke="none" stroke-width="1" />
<polyline points="212.6,286.4 233.0,287.3 245.5,286.7" fill="none" stroke="#4c4c4c" stroke-width="1" />
<polyline points="223.3,301.5 223.3,293.5 227.8,293.5 230.0,301.5" fill="none" stroke="#4c4c4c" stroke-width="0.9" />
<polyline points="232.2,287.5 235.5,301.5" fill="none" stroke="#4c4c4c" stroke-width="0.9" />
<rect x="155.0" y="293.7" width="34.0" height="3.0" fill="#454545" stroke="none" stroke-width="1" />
<rect x="269.5" y="294.1" width="33.5" height="2.8" fill="#454545" stroke="none" stroke-width="1" />
<rect x="376.9" y="294.4" width="35.1" height="2.8" fill="#454545" stroke="none" stroke-width="1" />
<rect x="513.0" y="293.4" width="34.0" height="2.8" fill="#454545" stroke="none" stroke-width="1" />
<path d="M412.0,301.0 A16.9,16.9 0 0 1 435.8,285.5 L451.3,287.0 L453.3,289.5 L453.3,301.0 Z" fill="#c7c7c9" stroke="none" stroke-width="1" />
<polyline points="435.8,285.5 451.3,287.0 453.3,289.5 453.3,301.0" fill="none" stroke="#4c4c4c" stroke-width="1" />
<path d="M511.3,300.8 A16.9,16.9 0 0 0 487.5,285.3 L472.0,287.4 L470.0,289.9 L470.0,300.8 Z" fill="#c7c7c9" stroke="none" stroke-width="1" />
<polyline points="487.5,285.3 472.0,287.4 470.0,289.9 470.0,300.8" fill="none" stroke="#4c4c4c" stroke-width="1" />
<polyline points="446.7,300.9 447.8,293.3 452.2,293.3 453.3,300.0" fill="none" stroke="#4c4c4c" stroke-width="0.9" />
<polyline points="471.1,300.0 472.2,291.1 476.7,291.1 477.8,300.8" fill="none" stroke="#4c4c4c" stroke-width="0.9" />
<path d="M679.1,300.3 A16.9,16.9 0 0 0 655.9,284.7 L638.7,285.3 L636.7,288.8 L636.7,300.3 Z" fill="#c7c7c9" stroke="none" stroke-width="1" />
<polyline points="655.9,284.7 638.7,285.3 636.7,288.8 636.7,300.3" fill="none" stroke="#4c4c4c" stroke-width="1" />
<path d="M730.2,300.2 A16.9,16.9 0 0 0 707.0,284.5 L688.7,286.2 L686.7,289.5 L686.7,300.2 Z" fill="#c7c7c9" stroke="none" stroke-width="1" />
<polyline points="707.0,284.5 688.7,286.2 686.7,289.5 686.7,300.2" fill="none" stroke="#4c4c4c" stroke-width="1" />
<polyline points="638.9,300.4 640.0,291.1 645.6,290.0 646.7,300.4" fill="none" stroke="#4c4c4c" stroke-width="0.9" />
<polyline points="689.0,300.3 690.0,291.0 695.5,290.0 696.6,300.3" fill="none" stroke="#4c4c4c" stroke-width="0.9" />
<rect x="681.0" y="292.4" width="32.5" height="3.3" fill="#454545" stroke="none" stroke-width="1" />
<rect x="731.0" y="292.4" width="33.4" height="3.3" fill="#454545" stroke="none" stroke-width="1" />
<path d="M141.0,301.7 A17.0,17.0 0 0 0 175.0,301.7 Z" fill="#fdfdfd" stroke="none"/>
<path d="M141.0,301.7 A17.0,17.0 0 0 0 175.0,301.7" fill="none" stroke="#434343" stroke-width="2.4"/>
<path d="M141.0,301.7 A17.0,17.0 0 0 1 164.4,285.9" fill="none" stroke="#434343" stroke-width="2.4"/>
<path d="M188.8,301.5 A16.7,16.7 0 0 0 222.2,301.5 Z" fill="#fdfdfd" stroke="none"/>
<path d="M188.8,301.5 A16.7,16.7 0 0 0 222.2,301.5" fill="none" stroke="#434343" stroke-width="2.4"/>
<path d="M188.8,301.5 A16.7,16.7 0 0 1 212.6,286.4" fill="none" stroke="#434343" stroke-width="2.4"/>
<path d="M236.6,301.4 A16.7,16.7 0 0 0 270.0,301.4 Z" fill="#fdfdfd" stroke="none"/>
<path d="M236.6,301.4 A16.7,16.7 0 0 0 270.0,301.4" fill="none" stroke="#434343" stroke-width="2.4"/>
<path d="M270.0,301.4 A16.7,16.7 0 0 0 245.5,286.7" fill="none" stroke="#434343" stroke-width="2.4"/>
<path d="M412.0,301.0 A16.9,16.9 0 0 0 445.8,301.0 Z" fill="#fdfdfd" stroke="none"/>
<path d="M412.0,301.0 A16.9,16.9 0 0 0 445.8,301.0" fill="none" stroke="#434343" stroke-width="2.4"/>
<path d="M412.0,301.0 A16.9,16.9 0 0 1 435.8,285.5" fill="none" stroke="#434343" stroke-width="2.4"/>
<path d="M477.5,300.8 A16.9,16.9 0 0 0 511.3,300.8 Z" fill="#fdfdfd" stroke="none"/>
<path d="M477.5,300.8 A16.9,16.9 0 0 0 511.3,300.8" fill="none" stroke="#434343" stroke-width="2.4"/>
<path d="M511.3,300.8 A16.9,16.9 0 0 0 487.5,285.3" fill="none" stroke="#434343" stroke-width="2.4"/>
<path d="M645.3,300.3 A16.9,16.9 0 0 0 679.1,300.3 Z" fill="#fdfdfd" stroke="none"/>
<path d="M645.3,300.3 A16.9,16.9 0 0 0 679.1,300.3" fill="none" stroke="#434343" stroke-width="2.4"/>
<path d="M679.1,300.3 A16.9,16.9 0 0 0 655.9,284.7" fill="none" stroke="#434343" stroke-width="2.4"/>
<path d="M696.4,300.2 A16.9,16.9 0 0 0 730.2,300.2 Z" fill="#fdfdfd" stroke="none"/>
<path d="M696.4,300.2 A16.9,16.9 0 0 0 730.2,300.2" fill="none" stroke="#434343" stroke-width="2.4"/>
<path d="M730.2,300.2 A16.9,16.9 0 0 0 707.0,284.5" fill="none" stroke="#434343" stroke-width="2.4"/>
<line x1="25.0" y1="302.0" x2="873.0" y2="299.8" stroke="#434343" stroke-width="1.1" stroke-dasharray="22,3,3,3" />
<text x="366.0" y="252.7" font-size="6.9" text-anchor="middle" fill="#4a4a4a" >152,4</text>
<line x1="357.4" y1="253.8" x2="374.6" y2="253.8" stroke="#4a4a4a" stroke-width="0.7" />
<polyline points="358.5,254.0 363.0,260.5" fill="none" stroke="#444" stroke-width="0.8" />
<text x="385.4" y="268.8" font-size="6.9" text-anchor="middle" fill="#4a4a4a" >25,4</text>
<line x1="378.5" y1="269.9" x2="392.3" y2="269.9" stroke="#4a4a4a" stroke-width="0.7" />
<text x="420.5" y="254.7" font-size="6.9" text-anchor="middle" fill="#4a4a4a" >25,4</text>
<line x1="413.6" y1="255.8" x2="427.4" y2="255.8" stroke="#4a4a4a" stroke-width="0.7" />
<text x="458.5" y="259.0" font-size="6.9" text-anchor="middle" fill="#4a4a4a" >25,4</text>
<line x1="451.6" y1="260.1" x2="465.4" y2="260.1" stroke="#4a4a4a" stroke-width="0.7" />
<text x="511.0" y="259.0" font-size="6.9" text-anchor="middle" fill="#4a4a4a" >25,4</text>
<line x1="504.1" y1="260.1" x2="517.9" y2="260.1" stroke="#4a4a4a" stroke-width="0.7" />
<text x="562.5" y="260.2" font-size="6.9" text-anchor="middle" fill="#4a4a4a" >25,4</text>
<line x1="555.6" y1="261.3" x2="569.4" y2="261.3" stroke="#4a4a4a" stroke-width="0.7" />
<polyline points="378.0,270.0 375.5,272.5" fill="none" stroke="#444" stroke-width="0.8" />
<polyline points="413.0,256.0 410.5,258.5" fill="none" stroke="#444" stroke-width="0.8" />
<polyline points="451.0,260.5 448.5,263.0" fill="none" stroke="#444" stroke-width="0.8" />
<polyline points="503.5,260.5 501.0,263.0" fill="none" stroke="#444" stroke-width="0.8" />
<polyline points="555.0,261.8 552.5,264.3" fill="none" stroke="#444" stroke-width="0.8" />
</g>
<g id="plan2">
<path d="M23.2,438.5 C25.2,437.4 30.5,434.4 35.0,432.0 C39.5,429.6 43.6,427.4 50.4,424.3 C57.2,421.2 65.3,416.7 75.6,413.3 C85.9,409.9 99.4,406.7 112.0,404.0 C124.6,401.3 136.3,399.3 151.0,397.0 C165.7,394.7 181.8,392.1 200.0,390.0 C218.2,387.9 239.5,386.1 260.5,384.6 C281.5,383.1 302.8,381.6 326.0,380.8 C349.2,380.0 383.5,380.0 400.0,379.8 C416.5,379.6 408.2,379.3 425.0,379.8 C441.8,380.3 475.5,381.4 500.7,382.6 C525.9,383.8 555.3,385.4 576.0,387.0 C596.7,388.6 610.5,390.5 625.0,392.0 C639.5,393.5 648.3,394.2 663.0,396.0 C677.7,397.8 696.7,400.6 713.0,403.0 C729.3,405.4 753.0,409.1 761.0,410.3 L761,462 L761.0,462.0 C753.0,463.2 729.3,466.7 713.0,469.0 C696.7,471.3 677.7,473.5 663.0,475.8 C648.3,478.1 639.5,480.8 625.0,483.0 C610.5,485.2 596.7,487.5 576.0,489.0 C555.3,490.5 525.9,491.2 500.7,492.0 C475.5,492.8 441.8,493.5 425.0,493.8 C408.2,494.1 416.5,494.1 400.0,493.8 C383.5,493.5 349.2,492.8 326.0,492.0 C302.8,491.2 281.2,489.9 260.5,489.0 C239.8,488.1 219.8,487.9 201.5,486.5 C183.2,485.1 165.9,482.9 151.0,480.8 C136.1,478.7 124.6,476.8 112.0,474.0 C99.4,471.2 85.9,467.2 75.6,463.8 C65.3,460.4 57.2,456.4 50.4,453.4 C43.6,450.3 39.5,448.0 35.0,445.5 C30.5,443.0 25.2,439.7 23.2,438.5 Z" fill="#c7c7c9" stroke="none" stroke-width="1" />
<path d="M761,436.2 L761,462 L761.0,462.0 C771.7,459.6 807.2,451.9 825.0,447.5 C842.8,443.1 860.8,437.8 867.9,435.8 Z" fill="#c7c7c9" stroke="none" stroke-width="1" />
<polygon points="260.5,437.8 409.5,437.3 409.5,478.3 415.5,478.3 415.5,493.8 340.0,492.3 260.5,489.0" fill="#fdfdfd" stroke="none" stroke-width="1" />
<polygon points="512.6,437.0 618.0,436.6 618.0,483.9 576.0,489.0 507.0,491.7 507.0,478.3 512.6,478.3" fill="#fdfdfd" stroke="none" stroke-width="1" />
<path d="M23.2,438.5 C25.2,437.4 30.5,434.4 35.0,432.0 C39.5,429.6 43.6,427.4 50.4,424.3 C57.2,421.2 65.3,416.7 75.6,413.3 C85.9,409.9 99.4,406.7 112.0,404.0 C124.6,401.3 136.3,399.3 151.0,397.0 C165.7,394.7 181.8,392.1 200.0,390.0 C218.2,387.9 250.4,385.5 260.5,384.6" fill="none" stroke="#434343" stroke-width="2.8" />
<path d="M260.5,384.6 C271.4,384.0 302.8,381.6 326.0,380.8 C349.2,380.0 383.5,380.0 400.0,379.8 C416.5,379.6 408.2,379.3 425.0,379.8 C441.8,380.3 475.5,381.4 500.7,382.6 C525.9,383.8 555.3,385.4 576.0,387.0 C596.7,388.6 610.5,390.5 625.0,392.0 C639.5,393.5 648.3,394.2 663.0,396.0 C677.7,397.8 696.7,400.6 713.0,403.0 C729.3,405.4 753.0,409.1 761.0,410.3" fill="none" stroke="#434343" stroke-width="3.2" />
<path d="M761.0,410.3 C771.7,412.8 807.2,421.1 825.0,425.4 C842.8,429.6 860.8,434.1 867.9,435.8" fill="none" stroke="#434343" stroke-width="2" />
<path d="M23.2,438.5 C25.2,439.7 30.5,443.0 35.0,445.5 C39.5,448.0 43.6,450.3 50.4,453.4 C57.2,456.4 65.3,460.4 75.6,463.8 C85.9,467.2 99.4,471.2 112.0,474.0 C124.6,476.8 136.1,478.7 151.0,480.8 C165.9,482.9 183.2,485.1 201.5,486.5 C219.8,487.9 239.8,488.1 260.5,489.0 C281.2,489.9 302.8,491.2 326.0,492.0 C349.2,492.8 383.5,493.5 400.0,493.8 C416.5,494.1 408.2,494.1 425.0,493.8 C441.8,493.5 475.5,492.8 500.7,492.0 C525.9,491.2 555.3,490.5 576.0,489.0 C596.7,487.5 610.5,485.2 625.0,483.0 C639.5,480.8 648.3,478.1 663.0,475.8 C677.7,473.5 696.7,471.3 713.0,469.0 C729.3,466.7 742.3,465.6 761.0,462.0 C779.7,458.4 807.2,451.9 825.0,447.5 C842.8,443.1 860.8,437.8 867.9,435.8" fill="none" stroke="#434343" stroke-width="2.8" />
<line x1="112.1" y1="403.8" x2="112.1" y2="474.0" stroke="#434343" stroke-width="3.1" />
<line x1="761.2" y1="410.3" x2="761.2" y2="462.0" stroke="#434343" stroke-width="2.4" />
<line x1="202.8" y1="389.8" x2="152.8" y2="423.0" stroke="#434343" stroke-width="2.9" />
<path d="M663,396.4 L713.4,420.4 Q723.4,426 723.4,433 V436.3" fill="none" stroke="#434343" stroke-width="2.4" />
<path d="M141.1,438.2 A15.6,15.6 0 0 1 172.3,438.2 Z" fill="#fdfdfd" stroke="none"/>
<path d="M141.1,438.2 A15.6,15.6 0 0 1 172.3,438.2" fill="none" stroke="#434343" stroke-width="1.5"/>
<path d="M196.4,438.0 A7.0,7.0 0 0 1 210.4,438.0 Z" fill="#fdfdfd" stroke="none"/>
<path d="M196.4,438.0 A7.0,7.0 0 0 1 210.4,438.0" fill="none" stroke="#434343" stroke-width="1.5"/>
<path d="M232.5,437.9 A15.4,15.4 0 0 1 263.3,437.9 Z" fill="#fdfdfd" stroke="none"/>
<path d="M232.5,437.9 A15.4,15.4 0 0 1 263.3,437.9" fill="none" stroke="#434343" stroke-width="1.5"/>
<path d="M420.7,437.3 A7.8,7.8 0 0 1 436.3,437.3 Z" fill="#fdfdfd" stroke="none"/>
<path d="M420.7,437.3 A7.8,7.8 0 0 1 436.3,437.3" fill="none" stroke="#434343" stroke-width="1.5"/>
<path d="M484.2,437.0 A7.8,7.8 0 0 1 499.8,437.0 Z" fill="#fdfdfd" stroke="none"/>
<path d="M484.2,437.0 A7.8,7.8 0 0 1 499.8,437.0" fill="none" stroke="#434343" stroke-width="1.5"/>
<path d="M654.5,436.5 A7.2,7.2 0 0 1 668.9,436.5 Z" fill="#fdfdfd" stroke="none"/>
<path d="M654.5,436.5 A7.2,7.2 0 0 1 668.9,436.5" fill="none" stroke="#434343" stroke-width="1.5"/>
<path d="M701.6,436.3 A7.2,7.2 0 0 1 716.0,436.3 Z" fill="#fdfdfd" stroke="none"/>
<path d="M701.6,436.3 A7.2,7.2 0 0 1 716.0,436.3" fill="none" stroke="#434343" stroke-width="1.5"/>
<polyline points="129.8,440.0 129.8,446.3 148.7,446.3 148.7,452.6 180.9,452.6 180.9,447.6 192.7,447.6 192.7,452.6 221.7,452.6 221.7,447.6 232.2,448.1 232.2,452.6 260.5,452.6" fill="none" stroke="#434343" stroke-width="1.7" />
<polyline points="163.8,452.6 163.8,460.7 173.8,463.7 260.5,478.3" fill="none" stroke="#434343" stroke-width="1.7" />
<line x1="260.5" y1="437.8" x2="260.5" y2="489.0" stroke="#4c4c4c" stroke-width="1.3" stroke-dasharray="2.2,1.6" />
<polyline points="409.5,437.3 409.5,478.3" fill="none" stroke="#4c4c4c" stroke-width="1.3" stroke-dasharray="2.2,1.6" />
<line x1="415.5" y1="478.3" x2="415.5" y2="493.8" stroke="#4c4c4c" stroke-width="1.3" stroke-dasharray="2.2,1.6" />
<line x1="512.6" y1="437.0" x2="512.6" y2="478.3" stroke="#4c4c4c" stroke-width="1.3" stroke-dasharray="2.2,1.6" />
<line x1="507.0" y1="478.3" x2="507.0" y2="491.7" stroke="#4c4c4c" stroke-width="1.3" stroke-dasharray="2.2,1.6" />
<line x1="618.0" y1="436.6" x2="618.0" y2="483.9" stroke="#4c4c4c" stroke-width="1.3" stroke-dasharray="2.2,1.6" />
<line x1="415.5" y1="437.3" x2="415.5" y2="478.3" stroke="#434343" stroke-width="1" />
<line x1="507.5" y1="437.0" x2="507.5" y2="478.3" stroke="#4c4c4c" stroke-width="1.3" stroke-dasharray="2.2,1.6" />
<line x1="408.8" y1="478.3" x2="512.6" y2="478.3" stroke="#434343" stroke-width="1.4" />
<line x1="416.0" y1="438.5" x2="416.0" y2="478.3" stroke="#434343" stroke-width="1" />
<line x1="618.0" y1="452.6" x2="741.0" y2="452.6" stroke="#434343" stroke-width="2.2" />
<line x1="741.0" y1="436.2" x2="741.0" y2="452.6" stroke="#434343" stroke-width="1.8" />
<polyline points="697.0,452.6 697.0,458.7 722.0,458.7 722.0,452.6" fill="none" stroke="#434343" stroke-width="1.2" />
<line x1="612.6" y1="475.8" x2="722.0" y2="458.7" stroke="#434343" stroke-width="1.7" />
<line x1="23.0" y1="438.6" x2="880.0" y2="435.7" stroke="#434343" stroke-width="1.1" stroke-dasharray="22,3,3,3" />
<text x="65.0" y="405.2" font-size="6.9" text-anchor="middle" fill="#4a4a4a" >102,0</text>
<line x1="56.4" y1="406.3" x2="73.6" y2="406.3" stroke="#4a4a4a" stroke-width="0.7" />
<polyline points="68.0,406.5 61.7,419.0" fill="none" stroke="#444" stroke-width="0.8" />
<text x="148.6" y="387.5" font-size="6.9" text-anchor="middle" fill="#4a4a4a" >152,4</text>
<line x1="140.0" y1="388.6" x2="157.2" y2="388.6" stroke="#4a4a4a" stroke-width="0.7" />
<polyline points="150.0,389.0 145.6,396.4" fill="none" stroke="#444" stroke-width="0.8" />
<text x="100.3" y="420.4" font-size="6.9" text-anchor="middle" fill="#4a4a4a" >102,0</text>
<line x1="91.7" y1="421.5" x2="108.9" y2="421.5" stroke="#4a4a4a" stroke-width="0.7" />
<polyline points="108.0,422.0 110.8,428.0" fill="none" stroke="#444" stroke-width="0.8" />
<text x="190.4" y="412.7" font-size="6.9" text-anchor="middle" fill="#4a4a4a" >76,2</text>
<line x1="183.5" y1="413.8" x2="197.3" y2="413.8" stroke="#4a4a4a" stroke-width="0.7" />
<polyline points="183.5,414.0 180.3,408.0" fill="none" stroke="#444" stroke-width="0.8" />
<text x="124.7" y="492.9" font-size="6.9" text-anchor="middle" fill="#4a4a4a" >25,4-38,1</text>
<line x1="109.2" y1="494.0" x2="140.2" y2="494.0" stroke="#4a4a4a" stroke-width="0.7" />
<polyline points="139.8,494.5 176.3,454.4" fill="none" stroke="#434343" stroke-width="0.9" />
<text x="195.0" y="503.5" font-size="6.9" text-anchor="middle" fill="#4a4a4a" >25,4-38,1</text>
<line x1="179.5" y1="504.6" x2="210.5" y2="504.6" stroke="#4a4a4a" stroke-width="0.7" />
<polyline points="207.5,505.0 237.5,476.0" fill="none" stroke="#434343" stroke-width="0.9" />
<text x="315.0" y="372.5" font-size="6.9" text-anchor="middle" fill="#4a4a4a" >228,6</text>
<line x1="306.4" y1="373.6" x2="323.6" y2="373.6" stroke="#4a4a4a" stroke-width="0.7" />
<polyline points="322.0,374.0 327.5,380.0" fill="none" stroke="#444" stroke-width="0.8" />
<text x="285.0" y="410.0" font-size="6.9" text-anchor="middle" fill="#4a4a4a" >25,4</text>
<text x="402.5" y="410.0" font-size="6.9" text-anchor="middle" fill="#4a4a4a" >25,4</text>
<text x="555.0" y="410.0" font-size="6.9" text-anchor="middle" fill="#4a4a4a" >25,4</text>
<text x="534.0" y="376.0" font-size="6.9" text-anchor="middle" fill="#4a4a4a" >228,6</text>
<line x1="525.4" y1="377.1" x2="542.6" y2="377.1" stroke="#4a4a4a" stroke-width="0.7" />
<polyline points="540.0,377.5 544.0,383.5" fill="none" stroke="#444" stroke-width="0.8" />
<text x="741.5" y="400.0" font-size="6.9" text-anchor="middle" fill="#4a4a4a" >152,4</text>
<line x1="732.9" y1="401.1" x2="750.1" y2="401.1" stroke="#4a4a4a" stroke-width="0.7" />
<polyline points="741.0,401.5 737.5,406.0" fill="none" stroke="#444" stroke-width="0.8" />
<text x="717.5" y="417.5" font-size="6.9" text-anchor="middle" fill="#4a4a4a" >78,2</text>
<line x1="710.6" y1="418.6" x2="724.4" y2="418.6" stroke="#4a4a4a" stroke-width="0.7" />
<polyline points="711.0,419.0 708.0,421.5" fill="none" stroke="#444" stroke-width="0.8" />
<text x="772.0" y="422.5" font-size="6.9" text-anchor="middle" fill="#4a4a4a" >78,2</text>
<line x1="765.1" y1="423.6" x2="778.9" y2="423.6" stroke="#4a4a4a" stroke-width="0.7" />
<polyline points="765.0,424.0 762.0,430.0" fill="none" stroke="#444" stroke-width="0.8" />
<text x="818.5" y="413.5" font-size="6.9" text-anchor="middle" fill="#4a4a4a" >102,0</text>
<line x1="809.9" y1="414.6" x2="827.1" y2="414.6" stroke="#4a4a4a" stroke-width="0.7" />
<polyline points="818.5,415.0 815.0,421.0" fill="none" stroke="#444" stroke-width="0.8" />
<text x="828.5" y="461.0" font-size="6.9" text-anchor="middle" fill="#4a4a4a" >152,4</text>
<line x1="819.9" y1="462.1" x2="837.1" y2="462.1" stroke="#4a4a4a" stroke-width="0.7" />
<polyline points="820.0,462.0 807.5,453.5" fill="none" stroke="#444" stroke-width="0.8" />
<text x="463.0" y="469.5" font-size="6.9" text-anchor="middle" fill="#4a4a4a" >25,4-38,1</text>
<line x1="447.5" y1="470.6" x2="478.5" y2="470.6" stroke="#4a4a4a" stroke-width="0.7" />
<polyline points="450.4,471.3 455.4,477.0" fill="none" stroke="#444" stroke-width="0.8" />
<text x="717.5" y="482.5" font-size="6.9" text-anchor="middle" fill="#4a4a4a" >25,4-38,1</text>
<line x1="702.0" y1="483.6" x2="733.0" y2="483.6" stroke="#4a4a4a" stroke-width="0.7" />
<polyline points="702.0,484.0 702.0,459.0" fill="none" stroke="#434343" stroke-width="0.9" />
<text x="639.0" y="493.5" font-size="6.9" text-anchor="middle" fill="#4a4a4a" >25,4-38,1</text>
<line x1="623.5" y1="494.6" x2="654.5" y2="494.6" stroke="#4a4a4a" stroke-width="0.7" />
<polyline points="653.0,495.0 672.5,453.5" fill="none" stroke="#434343" stroke-width="0.9" />
</g>
</g>
</svg>
</body></html>
